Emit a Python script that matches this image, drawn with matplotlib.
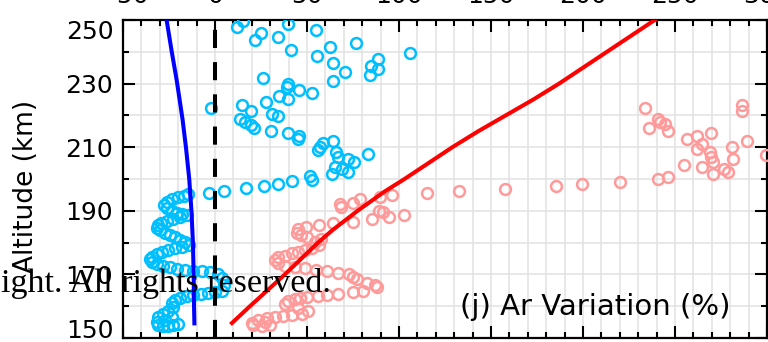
import matplotlib
matplotlib.use("Agg")
import matplotlib.pyplot as plt
import numpy as np

# cyan open circles (upper scattered part, then the dense wiggle below ~196 km)
cyan_val = [12, 15.2, 25, 22, 34, 39.5, 41.3, 55, 55.3, 62.7, 64.1, 76.6, 70.7, 64, 84.8,
            88.8, 88.8, 84.2, 106.2, 26.3, 39.9, 39.1, 45.8, 52.5, 34.8, 39.9, 27.9, -2.3,
            14.5, 19.7, 30.8, 34.4, 13.6, 16.3, 19.6, 21, 30.3, 39.7, 45.7, 45.1, 64.1, 58.5,
            57.1, 56, 65.6, 66.7, 72.5, 75.5, 83, 65.2, 68.8, 72.5, 63.8, 51.5, 52.5, 41.7,
            34.4, 26.8, 16.7, 5.1, -3.1,
            -14.5, -16.7, -19.9, -23.6, -26.3, -27.5, -26.3, -23.6, -20.8, -18.1, -15.4,
            -19.0, -22.6, -26.3, -29.3, -31.2, -31.7, -29.9,
            -27.2, -24.5, -21.7, -19.0, -16.3, -14.1,
            -18.1, -21.7, -25.4, -29.0, -31.7, -34.4, -35.3, -34.1, -31.7,
            -28.1, -24.5, -20.8, -16.3, -11.8, -7.2, -2.7, 1.8,
            3.6, 5.1, 3.6,
            0.0, -3.6, -7.6, -11.8, -15.4, -19.0, -21.7,
            -23.6, -22.6, -25.4, -28.1, -30.8, -31.7, -30.8, -28.1, -25.4, -22.6, -20.2,
            -27.2, -23.6]
cyan_alt = [247.8, 249.7, 245.8, 243.7, 244.7, 248.7, 240.7, 246.9, 238.6, 241.6, 236.6,
            242.7, 233.6, 230.8, 235.6, 237.6, 234.6, 232.6, 239.6, 231.9, 229.9, 229.0,
            227.9, 226.9, 226.1, 225.2, 224.1, 222.3, 223.3, 221.4, 220.5, 219.7, 218.8,
            217.8, 217.0, 216.1, 215.2, 214.5, 213.6, 212.7, 211.9, 211.2, 210.2, 209.2,
            208.6, 207.0, 206.3, 205.4, 207.8, 203.9, 203.0, 202.2, 201.5, 200.8, 199.8,
            199.3, 198.5, 197.7, 197.1, 196.3, 195.6,
            195.3, 194.7, 194.2, 193.6, 192.9, 191.8, 190.8, 190.0, 189.4, 189.0, 188.6,
            187.9, 187.3, 186.9, 186.3, 185.5, 184.5, 184.0,
            183.1, 182.4, 181.7, 180.8, 180.1, 179.2,
            178.7, 178.2, 177.7, 177.1, 176.4, 175.6, 174.7, 173.9, 173.3,
            172.6, 172.2, 171.8, 171.4, 171.2, 171.0, 170.8, 170.1,
            168.8, 166.7, 164.8,
            164.5, 164.2, 163.8, 163.5, 163.1, 162.7, 161.9,
            160.9, 159.6, 158.6, 157.5, 156.5, 155.1, 154.1, 153.8, 153.8, 154.0, 154.4,
            155.7, 156.7]

# pink open circles
pink_val = [115.0, 96.0, 89.7, 78.8, 74.8, 67.9, 68.5, 89.1, 91.5, 94.6, 102.7, 85.5, 74.8,
            64.3, 56.5, 49.3, 45.3, 44.4, 46.7, 49.8,
            54.3, 57.6, 56.7, 52.9, 48.9, 45.3, 41.7, 38.0, 34.4, 32.6, 34.4, 38.0, 43.5,
            48.9, 54.7, 60.7, 67.0, 72.8, 75.2, 77.0, 82.4, 87.0, 87.9, 80.6, 75.2, 67.0,
            60.7, 56.1, 49.8, 46.2, 43.5, 39.9, 38.0,
            45.3, 50.7, 47.1, 41.7, 37.1, 32.6, 28.1, 23.5, 19.9, 20.8, 25.4, 29.9, 27.2,
            132.8, 157.6, 185.2, 199.3, 220.1, 240.6, 246.0, 254.9, 264.9, 270.8, 270.5,
            269.4, 269.0, 276.8, 279.0, 281.7, 281.1, 289.0, 299.3, 286.2, 286.6, 233.7,
            235.9, 240.9, 241.8, 244.6, 246.0, 256.4, 262.1, 269.4, 264.5, 262.1]
pink_alt = [195.7, 195.0, 194.2, 193.6, 192.6, 192.1, 191.3, 190.0, 189.7, 188.2, 188.8,
            187.3, 186.6, 186.3, 185.5, 185.0, 184.2, 183.1, 182.4, 181.7,
            180.3, 181.0, 179.2, 178.2, 177.7, 177.1, 176.6, 175.8, 175.4, 174.5, 173.5,
            172.6, 172.2, 171.9, 171.4, 171.2, 170.5, 170.1, 169.1, 168.5, 167.2, 166.7,
            165.9, 164.9, 164.4, 163.8, 163.6, 163.3, 163.0, 162.5, 162.3, 161.7, 160.7,
            159.3, 158.5, 157.5, 157.1, 156.9, 156.7, 156.3, 155.7, 154.8, 154.1, 153.8,
            154.0, 155.1,
            196.3, 197.0, 197.7, 198.4, 199.2, 199.9, 200.6, 204.5, 203.8, 201.5, 205.2,
            207.0, 208.6, 203.0, 202.3, 206.2, 210.2, 211.9, 207.5, 223.3, 221.4, 222.4,
            216.1, 218.8, 217.8, 217.2, 215.2, 212.7, 213.5, 214.4, 211.0, 209.3]

blue_alt = [154.6, 160, 170, 180, 190, 200, 210, 218.6, 231, 240, 250, 255]
blue_val = [-11.2, -11.4, -11.6, -12.0, -12.8, -14.0, -15.8, -17.6, -20.8, -23.5, -26.3, -27.7]

red_alt = [154.7, 160, 165, 170, 175, 180, 184, 190, 196, 200, 205, 210, 215, 220, 225,
           230, 235, 240, 245, 250, 255]
red_val = [9.2, 19, 28.5, 38, 47, 56, 64, 77.5, 92, 103, 116, 129, 143, 158, 173, 187,
           200, 213, 226, 239, 251]

fig = plt.figure(figsize=(7.68, 3.42), dpi=100)
ax = fig.add_axes([123 / 768, 1 - 338 / 342, 644 / 768, 318 / 342])

ax.set_xlim(-50, 300)
ax.set_ylim(150, 250)

# light grid
ax.set_xticks(np.arange(-50, 301, 10), minor=True)
ax.set_yticks(np.arange(150, 251, 5), minor=True)
ax.grid(True, which='minor', color='#e2e2e2', lw=1.1, zorder=0)
ax.grid(True, which='major', color='#e2e2e2', lw=1.1, zorder=0)
ax.set_axisbelow(True)

ax.plot(cyan_val, cyan_alt, 'o', ms=7.8, mfc='none', mec='#00bfff', mew=1.8, zorder=3)
ax.plot(pink_val, pink_alt, 'o', ms=7.8, mfc='none', mec='#ff9a9a', mew=1.8, zorder=3)
ax.plot(blue_val, blue_alt, color='#0000ff', lw=2.9, zorder=4)
ax.plot(red_val, red_alt, color='#ff0000', lw=2.9, zorder=4)
ax.axvline(0, color='black', lw=2.9, dashes=(4.5, 3.5), zorder=4)

# ticks: labels on top and left, ticks inside on all sides
ax.set_xticks(np.arange(-50, 301, 50))
ax.set_xticklabels(['\u221250', '0', '50', '100', '150', '200', '250', '300'])
ax.xaxis.set_ticks_position('both')
ax.tick_params(axis='x', which='both', direction='in', labeltop=True, labelbottom=False,
               top=True, bottom=True)
ax.set_yticks(np.arange(150, 251, 20))
ax.set_yticks([160, 180, 200, 220, 240], minor=True)
ax.tick_params(axis='y', which='both', direction='in', left=True, right=True,
               labelleft=True, labelright=False)
ax.tick_params(which='major', length=8.5, width=1.5, labelsize=18)
ax.tick_params(which='minor', length=4.5, width=1.5)
ax.tick_params(axis='x', which='major', pad=8.5)
ax.tick_params(axis='y', which='major', pad=7)
for s in ax.spines.values():
    s.set_linewidth(1.6)

for lab in ax.get_yticklabels():
    if lab.get_text() == '250':
        lab.set_va('top')
    elif lab.get_text() == '150':
        lab.set_va('baseline')

fig.text(26 / 768, 1 - 186 / 342, 'Altitude (km)', rotation=90, fontsize=19,
         ha='center', va='center')
fig.text(730 / 768, 1 - 315 / 342, '(j) Ar Variation (%)', fontsize=21,
         ha='right', va='baseline')
fig.text(1 / 768, 1 - 292 / 342, 'ight. All rights reserved.', fontsize=24.5,
         family='Liberation Serif', ha='left', va='baseline', zorder=10)

fig.savefig('out.png', dpi=100)
